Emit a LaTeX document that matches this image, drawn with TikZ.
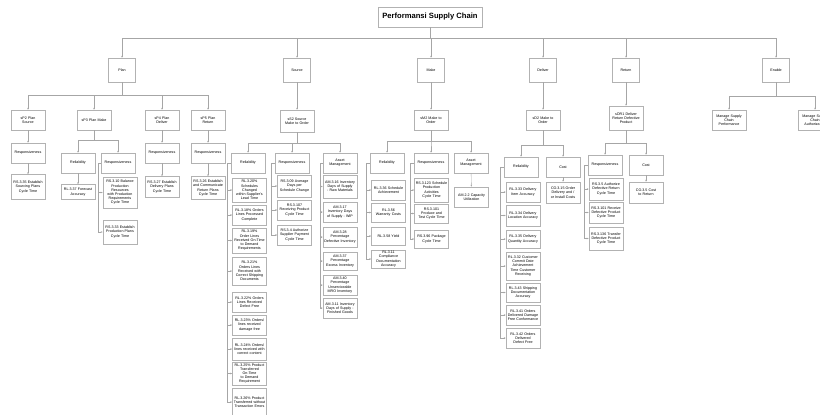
\documentclass[tikz,border=0pt]{standalone}
\usepackage{fontspec}
\setmainfont{Liberation Sans}
\usetikzlibrary{arrows.meta}
\hyphenpenalty=10000
\exhyphenpenalty=10000
\tikzset{frame/.style={draw=gray!60,line width=0.6pt,fill=white,align=center,inner sep=1pt},
  box/.style={frame,text width=0.95cm,font=\fontsize{3.1}{3.6}\selectfont},
  cat/.style={box,minimum height=0.6cm},
  stage/.style={box,text width=0.74cm,minimum height=0.72cm},
  head/.style={frame,font=\bfseries\fontsize{6.5}{7.5}\selectfont,minimum width=3.12cm,minimum height=0.6cm},
  link/.style={draw=gray!70,line width=0.35pt,-{Stealth[length=1.6pt,width=1.4pt]}}}

\begin{document}
\begin{tikzpicture}[x=0.03cm,y=-0.03cm]
\useasboundingbox (0,0) rectangle (820,414);
% root and stages
\node[head] (title) at (430,17) {Performansi Supply Chain};
\coordinate (topbus) at (430,38);
\foreach \n/\x/\t in {plan/122/Plan,source/297/Source,make/431/Make,deliver/543/Deliver,return/626/Return,enable/776/Enable}{
  \node[stage] (\n) at (\x,70) {\t};
  \draw[link] (title.south) -- (topbus) -| (\n.north);
}

% plan
\coordinate (planbus) at (122,95);
\node[cat] (sp2) at (28,120) {sP2 Plan\\Source};
\node[cat] (sp3) at (94,120) {sP3 Plan Make};
\node[cat] (sp4) at (162,120) {sP4 Plan\\Deliver};
\node[cat] (sp5) at (208,120) {sP5 Plan\\Return};
\foreach \n in {sp2,sp3,sp4,sp5} \draw[link] (plan.south) -- (planbus) -| (\n.north);
\node[cat] (sp2s) at (28,153) {Responsiveness};
\node[box,minimum height=0.75cm] (sp2s1) at (28,187) {RS.3.35 Establish Sourcing Plans Cycle Time};
\draw[link] (sp2) -- (sp2s);
\draw[link] (sp2s) -- (sp2s1);
\coordinate (sp3bus) at (94,140);
\node[cat] (sp3l) at (78,163) {Reliability};
\node[cat] (sp3s) at (118,163) {Responsiveness};
\foreach \n in {sp3l,sp3s} \draw[link] (sp3.south) -- (sp3bus) -| (\n.north);
\node[box,minimum height=0.45cm] (sp3l1) at (78,192) {RL.3.37 Forecast Accuracy};
\draw[link] (sp3l) -- (sp3l1);
\node[box,minimum height=0.93cm] (sp3s1) at (120,192.5) {RS.3.10 Balance Production Resources with Production Requirements Cycle Time};
\node[box,minimum height=0.72cm] (sp3s2) at (120,232) {RS.3.33 Establish Production Plans Cycle Time};
\foreach \n in {sp3s1,sp3s2} \draw[link] (sp3s.west) -- ++(-2,0) |- (\n.west);
\node[cat] (sp4s) at (162,153) {Responsiveness};
\node[box,minimum height=0.63cm] (sp4s1) at (162,187) {RS.3.27 Establish Delivery Plans Cycle Time};
\draw[link] (sp4) -- (sp4s);
\draw[link] (sp4s) -- (sp4s1);
\node[cat] (sp5s) at (208,153) {Responsiveness};
\node[box,minimum height=0.69cm] (sp5s1) at (208,188) {RS.3.26 Establish and Communicate Return Plans Cycle Time};
\draw[link] (sp5) -- (sp5s);
\draw[link] (sp5s) -- (sp5s1);

% source
\node[cat,minimum height=0.66cm] (ss2) at (297,121) {sS2 Source\\Make to Order};
\draw[link] (source) -- (ss2);
\coordinate (ssbus) at (297,143);
\node[cat] (srl) at (248,163) {Reliability};
\node[cat] (srs) at (292,163) {Responsiveness};
\node[cat] (sam) at (340,163) {Asset\\Management};
\foreach \n in {srl,srs,sam} \draw[link] (ss2.south) -- (ssbus) -| (\n.north);
\foreach \y/\h/\t [count=\i] in {190/24/{RL.3.20\% Schedules Changed within Supplier's Lead Time},
  215/20/{RL.3.18\% Orders Lines Processed Complete},
  240.5/25/{RL.3.19\% Order Lines Received On-Time to Demand Requirements},
  271/28/{RL.3.21\% Orders Lines Received with Correct Shipping Documents},
  302/20/{RL.3.22\% Orders Lines Received Defect Free},
  325/20/{RL.3.23\% Orders/ lines received damage free},
  349/22/{RL.3.24\% Orders/ lines received with correct content},
  373.5/23/{RL.3.25\% Product Transferred On-Time to Demand Requirement},
  402/28/{RL.3.26\% Product Transferred without Transaction Errors}}{
  \node[box,minimum height=\h*0.03cm] (srl\i) at (249.5,\y) {\t};
  \draw[link] (srl.west) -- ++(-3,0) |- (srl\i.west);
}
\foreach \y/\h/\t [count=\i] in {186/22/{RS.3.09 Average Days per Schedule Change},
  210/20/{RS.3.107 Receiving Product Cycle Time},
  235/20/{RS.3.4 Authorize Supplier Payment Cycle Time}}{
  \node[box,minimum height=\h*0.03cm] (srs\i) at (294.5,\y) {\t};
  \draw[link] (srs.west) -- ++(-3,0) |- (srs\i.west);
}
\foreach \y/\h/\t [count=\i] in {186.5/23/{AM.3.16 Inventory Days of Supply - Raw Materials},
  212/20/{AM.3.17 Inventory Days of Supply - WIP},
  237/20/{AM.3.28 Percentage Defective Inventory},
  261/18/{AM.3.37 Percentage Excess Inventory},
  285/20/{AM.3.40 Percentage Unserviceable MRO Inventory},
  308/20/{AM.3.11 Inventory Days of Supply - Finished Goods}}{
  \node[box,minimum height=\h*0.03cm] (sam\i) at (340,\y) {\t};
  \draw[link] (sam.west) -- ++(-2,0) |- (sam\i.west);
}

% make
\node[cat] (sm2) at (431,120) {sM2 Make to\\Order};
\draw[link] (make) -- (sm2);
\coordinate (smbus) at (431,141);
\node[cat] (mrl) at (387,163) {Reliability};
\node[cat] (mrs) at (431,163) {Responsiveness};
\node[cat] (mam) at (471,163) {Asset\\Management};
\foreach \n in {mrl,mrs,mam} \draw[link] (sm2.south) -- (smbus) -| (\n.north);
\foreach \y/\h/\t [count=\i] in {190/20/{RL.3.36 Schedule Achievement},
  212.5/19/{RL.3.56 Warranty Costs},
  236/18/{RL.3.58 Yield},
  259/18/{RL.3.11 Compliance Documentation Accuracy}}{
  \node[box,minimum height=\h*0.03cm] (mrl\i) at (388.5,\y) {\t};
  \draw[link] (mrl.west) -- ++(-3,0) |- (mrl\i.west);
}
\foreach \y/\h/\t [count=\i] in {190/24/{RS.3.123 Schedule Production Activities Cycle Time},
  213.5/19/{RS.3.101 Produce and Test Cycle Time},
  239/18/{RS.3.96 Package Cycle Time}}{
  \node[box,minimum height=\h*0.03cm] (mrs\i) at (431.5,\y) {\t};
  \draw[link] (mrs.west) -- ++(-3,0) |- (mrs\i.west);
}
\node[box,minimum height=0.6cm] (mam1) at (471.5,197) {AM.2.2 Capacity Utilization};
\draw[link] (mam) -- (mam1);

% deliver
\node[cat] (sd2) at (543,120) {sD2 Make to\\Order};
\draw[link] (deliver) -- (sd2);
\coordinate (sdbus) at (543,145);
\node[cat] (drl) at (521,167) {Reliability};
\node[cat] (dco) at (563,167) {Cost};
\foreach \n in {drl,dco} \draw[link] (sd2.south) -- (sdbus) -| (\n.north);
\foreach \y/\h/\t [count=\i] in {192/20/{RL.3.33 Delivery Item Accuracy},
  215.5/21/{RL.3.34 Delivery Location Accuracy},
  239/18/{RL.3.35 Delivery Quantity Accuracy},
  266/28/{RL.3.32 Customer Commit Date Achievement Time Customer Receiving},
  292.5/19/{RL.3.43 Shipping Documentation Accuracy},
  315/20/{RL.3.41 Orders Delivered Damage Free Conformance},
  338/20/{RL.3.42 Orders Delivered Defect Free}}{
  \node[box,minimum height=\h*0.03cm] (drl\i) at (523,\y) {\t};
  \draw[link] (drl.west) -- ++(-3,0) |- (drl\i.west);
}
\node[box,minimum height=0.63cm] (dco1) at (563,192.5) {CO.3.15 Order Delivery and / or Install Costs};
\draw[link] (dco) -- (dco1);

% return
\node[cat,minimum height=0.72cm] (sdr1) at (626,118) {sDR1 Deliver Return Defective Product};
\draw[link] (return) -- (sdr1);
\coordinate (srbus) at (626,143);
\node[cat] (rrs) at (605,165) {Responsiveness};
\node[cat] (rco) at (646,165) {Cost};
\foreach \n in {rrs,rco} \draw[link] (sdr1.south) -- (srbus) -| (\n.north);
\foreach \y/\h/\t [count=\i] in {189/22/{RS.3.5 Authorize Defective Return Cycle Time},
  212.5/21/{RS.3.101 Receive Defective Product Cycle Time},
  238.5/23/{RS.3.136 Transfer Defective Product Cycle Time}}{
  \node[box,minimum height=\h*0.03cm] (rrs\i) at (606,\y) {\t};
  \draw[link] (rrs.west) -- ++(-3,0) |- (rrs\i.west);
}
\node[box,minimum height=0.63cm] (rco1) at (646,192.5) {CO.3.5 Cost to Return};
\draw[link] (rco) -- (rco1);

% enable
\coordinate (enbus) at (776,96);
\node[cat] (en1) at (729,120) {Manage Supply\\Chain\\Performance};
\node[cat] (en2) at (815,120) {Manage Supply\\Chain\\Authorization};
\foreach \n in {en1,en2} \draw[link] (enable.south) -- (enbus) -| (\n.north);
\end{tikzpicture}
\end{document}
